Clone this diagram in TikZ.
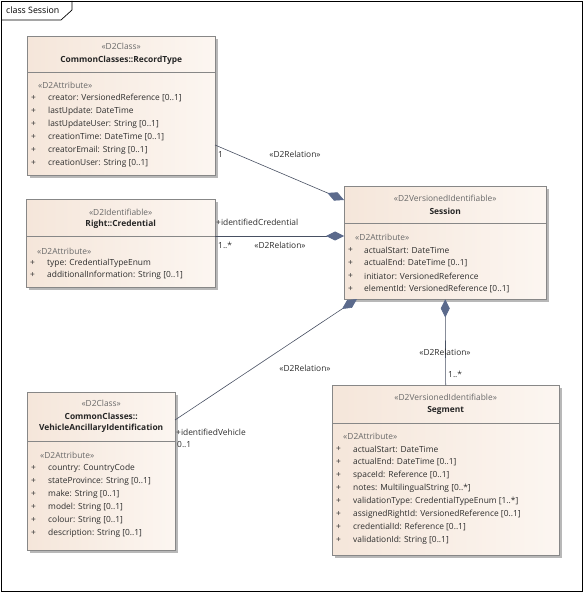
\documentclass[tikz,border=0pt]{standalone}
\usepackage{fontspec}
\setmainfont{Open Sans}
\usetikzlibrary{arrows.meta,shadows}
\definecolor{boxleft}{RGB}{245,230,218}
\definecolor{boxright}{RGB}{252,246,241}
\definecolor{boxline}{RGB}{135,135,135}
\definecolor{linkcol}{RGB}{72,80,98}
\definecolor{diamfill}{RGB}{91,106,140}
\definecolor{stereocol}{RGB}{105,105,105}
\definecolor{attrcol}{RGB}{45,45,45}
\tikzset{
  classbox/.style={draw=boxline, anchor=north west, inner sep=0pt,
    left color=boxleft, right color=boxright,
    drop shadow={shadow xshift=3pt, shadow yshift=-3pt, fill=black!28, opacity=1}},
  stereo/.style={text=stereocol, inner sep=0pt, font=\fontsize{8.4}{10}\selectfont},
  cname/.style={text=black!85, inner sep=0pt, font=\fontsize{8.4}{10}\selectfont\bfseries},
  attr/.style={text=attrcol, anchor=west, inner sep=0pt, font=\fontsize{8.4}{10}\selectfont},
  lbl/.style={text=attrcol, inner sep=0pt, font=\fontsize{8.4}{10}\selectfont},
  link/.style={draw=linkcol, line width=0.6pt},
  comp/.style={link, -{Diamond[length=18pt, width=9pt, fill=diamfill, color=diamfill]}}
}
\begin{document}
\begin{tikzpicture}[x=1pt, y=-1pt]
  \useasboundingbox (0,0) rectangle (584,593);
  % frame and tab
  \draw [black, line width=0.7pt] (1,1) rectangle (582,591);
  \draw [black, line width=0.7pt] (1,20) -- (61,20) -- (72,10) -- (72,1);
  \node [lbl, text=black, anchor=west, font=\fontsize{8.8}{10}\selectfont] (title) at (6,10) {class Session};

  % CommonClasses::RecordType
  \node [classbox, minimum width=188pt, minimum height=139pt] (recordtype) at (27,36) {};
  \draw [boxline] (recordtype.west |- 0,72) -- (recordtype.east |- 0,72);
  \node [stereo] (rt-st) at (recordtype.north |- 0,46) {«D2Class»};
  \node [cname] (rt-nm) at (recordtype.north |- 0,60) {CommonClasses::RecordType};
  \node [stereo, anchor=west] (rt-at) at (38,85) {«D2Attribute»};
  \foreach \t [count=\i] in {{creator: VersionedReference [0..1]}, {lastUpdate: DateTime},
      {lastUpdateUser: String [0..1]}, {creationTime: DateTime [0..1]},
      {creatorEmail: String [0..1]}, {creationUser: String [0..1]}} {
    \node [attr] (rt-p\i) at (31,{85+13*\i}) {+};
    \node [attr] (rt-a\i) at (48,{85+13*\i}) {\t};
  }

  % Right::Credential
  \node [classbox, minimum width=189pt, minimum height=88pt] (credential) at (26,199) {};
  \draw [boxline] (credential.west |- 0,236) -- (credential.east |- 0,236);
  \node [stereo] (cr-st) at (credential.north |- 0,212) {«D2Identifiable»};
  \node [cname] (cr-nm) at (credential.north |- 0,224) {Right::Credential};
  \node [stereo, anchor=west] (cr-at) at (37,251) {«D2Attribute»};
  \foreach \t [count=\i] in {{type: CredentialTypeEnum}, {additionalInformation: String [0..1]}} {
    \node [attr] (cr-p\i) at (30,{251+12*\i}) {+};
    \node [attr] (cr-a\i) at (47,{251+12*\i}) {\t};
  }

  % Session
  \node [classbox, minimum width=202pt, minimum height=113pt] (session) at (344,186) {};
  \draw [boxline] (session.west |- 0,223) -- (session.east |- 0,223);
  \node [stereo] (se-st) at (session.north |- 0,198) {«D2VersionedIdentifiable»};
  \node [cname] (se-nm) at (session.north |- 0,211) {Session};
  \node [stereo, anchor=west] (se-at) at (355,237) {«D2Attribute»};
  \foreach \t [count=\i] in {{actualStart: DateTime}, {actualEnd: DateTime [0..1]},
      {initiator: VersionedReference}, {elementId: VersionedReference [0..1]}} {
    \node [attr] (se-p\i) at (348,{237+13*\i}) {+};
    \node [attr] (se-a\i) at (364,{237+13*\i}) {\t};
  }

  % CommonClasses::VehicleAncillaryIdentification
  \node [classbox, minimum width=148pt, minimum height=158pt] (vehicle) at (27,392) {};
  \draw [boxline] (vehicle.west |- 0,441) -- (vehicle.east |- 0,441);
  \node [stereo] (ve-st) at (vehicle.north |- 0,403) {«D2Class»};
  \node [cname] (ve-nm1) at (vehicle.north |- 0,416) {CommonClasses::};
  \node [cname] (ve-nm2) at (vehicle.north |- 0,428) {VehicleAncillaryIdentification};
  \node [stereo, anchor=west] (ve-at) at (40,455) {«D2Attribute»};
  \foreach \t [count=\i] in {{country: CountryCode}, {stateProvince: String [0..1]},
      {make: String [0..1]}, {model: String [0..1]}, {colour: String [0..1]},
      {description: String [0..1]}} {
    \node [attr] (ve-p\i) at (31,{455+13*\i}) {+};
    \node [attr] (ve-a\i) at (48,{455+13*\i}) {\t};
  }

  % Segment
  \node [classbox, minimum width=227pt, minimum height=170pt] (segment) at (332,385) {};
  \draw [boxline] (segment.west |- 0,423) -- (segment.east |- 0,423);
  \node [stereo] (sg-st) at (segment.north |- 0,397) {«D2VersionedIdentifiable»};
  \node [cname] (sg-nm) at (segment.north |- 0,410) {Segment};
  \node [stereo, anchor=west] (sg-at) at (343,436) {«D2Attribute»};
  \foreach \t [count=\i] in {{actualStart: DateTime}, {actualEnd: DateTime [0..1]},
      {spaceId: Reference [0..1]}, {notes: MultilingualString [0..*]},
      {validationType: CredentialTypeEnum [1..*]}, {assignedRightId: VersionedReference [0..1]},
      {credentialId: Reference [0..1]}, {validationId: String [0..1]}} {
    \node [attr] (sg-p\i) at (336,{436+13*\i}) {+};
    \node [attr] (sg-a\i) at (353,{436+13*\i}) {\t};
  }

  % connector ends
  \coordinate (rt-out) at (215,145);
  \coordinate (se-in1) at (344,200);
  \coordinate (cr-out) at (215,236);
  \coordinate (se-in2) at (344,236);
  \coordinate (ve-out) at (175,420);
  \coordinate (se-in3) at (357,299);

  % relations
  \draw [comp] (rt-out) -- (se-in1);
  \node [lbl, anchor=west] (l1-m) at (218,155) {1};
  \node [lbl] (l1-r) at (295,154) {«D2Relation»};

  \draw [comp] (cr-out) -- (se-in2);
  \node [lbl, anchor=west] (l2-n) at (216,222) {+identifiedCredential};
  \node [lbl, anchor=west] (l2-m) at (218,245) {1..*};
  \node [lbl] (l2-r) at (280,245) {«D2Relation»};

  \draw [comp] (ve-out) -- (se-in3);
  \node [lbl] (l3-r) at (305,368) {«D2Relation»};
  \node [lbl, anchor=west] (l3-n) at (176,432) {+identifiedVehicle};
  \node [lbl, anchor=west] (l3-m) at (177,445) {0..1};

  \draw [comp] (segment.north) -- (session.south);
  \node [lbl] (l4-r) at (445,352) {«D2Relation»};
  \node [lbl, anchor=west] (l4-m) at (448,374) {1..*};
\end{tikzpicture}
\end{document}
